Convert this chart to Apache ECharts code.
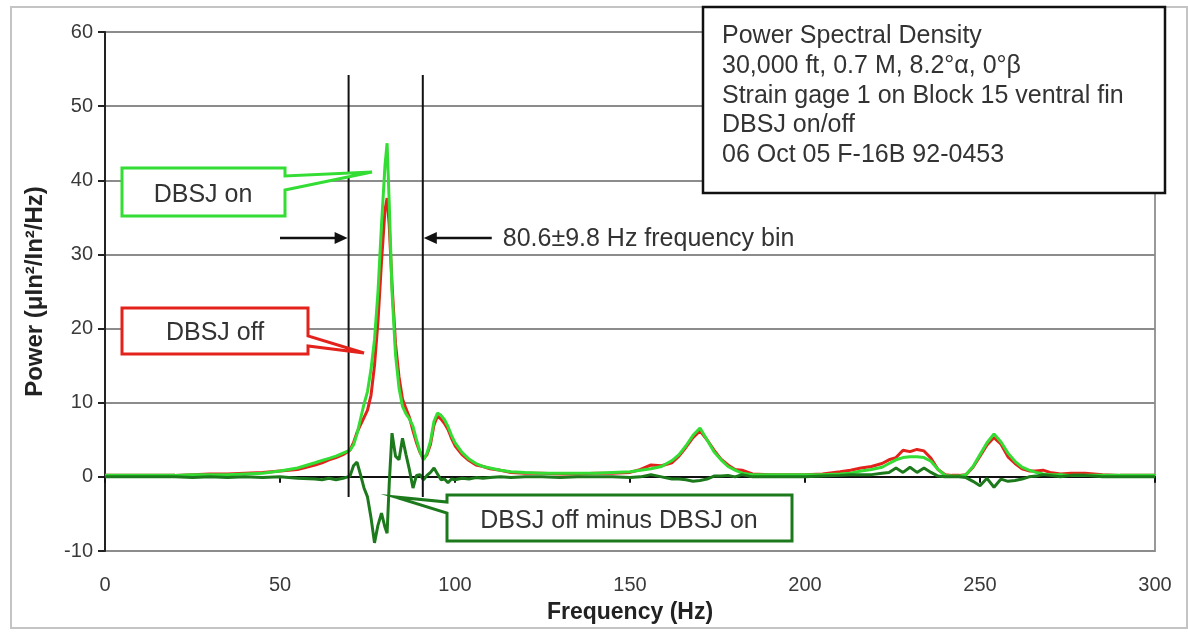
<!DOCTYPE html>
<html>
<head>
<meta charset="utf-8">
<script src="https://cdn.jsdelivr.net/npm/echarts@6/dist/echarts.min.js"></script>
<style>
html,body{margin:0;padding:0;background:#fff;}
#chart{width:1188px;height:632px;}
</style>
</head>
<body>
<div id="chart"></div>
<script>
// Frequency samples (Hz)
const freq = [
  0, 5, 10, 15, 20, 25, 30, 35, 40, 45,
  50, 55, 60, 62, 64, 66, 68, 70, 71, 72,
  73, 74, 75, 76, 77, 78, 79, 80, 80.6, 81.2,
  82, 83, 84, 85, 86, 87, 88, 89, 90, 91,
  92, 93, 94, 95, 96, 97, 98, 99, 100, 102,
  104, 106, 108, 110, 113, 116, 120, 125, 130, 135,
  140, 145, 150, 153, 156, 159, 162, 164, 166, 168,
  170, 172, 174, 176, 178, 180, 182, 185, 190, 195,
  200, 205, 210, 213, 216, 219, 222, 224, 226, 228,
  230, 232, 234, 236, 238, 240, 242, 244, 246, 248,
  250, 252, 254, 256, 258, 260, 262, 264, 266, 268,
  270, 273, 276, 280, 285, 290, 295, 300
];
// DBSJ on (bright green)
const dbsjOn = [
  0.2, 0.2, 0.2, 0.2, 0.2, 0.3, 0.3, 0.3, 0.4, 0.5,
  0.8, 1.2, 1.9, 2.2, 2.5, 2.8, 3.2, 3.6, 4.3, 5.8,
  7.8, 9.8, 11.5, 14.5, 18.5, 25, 34, 42, 45, 37,
  25, 16.5, 12, 9.5, 8.5, 7.8, 6.8, 5, 3.4, 2.3,
  3.2, 4.8, 7.5, 8.6, 8.3, 7.7, 6.8, 5.6, 4.6, 3.3,
  2.4, 1.8, 1.4, 1.2, 0.9, 0.7, 0.6, 0.5, 0.5, 0.5,
  0.5, 0.6, 0.7, 0.9, 1.1, 1.4, 2.2, 3.0, 4.2, 5.6,
  6.6, 5.0, 3.4, 2.3, 1.4, 0.9, 0.5, 0.3, 0.3, 0.3,
  0.3, 0.3, 0.4, 0.5, 0.8, 1.0, 1.3, 1.8, 2.3, 2.6,
  2.7, 2.7, 2.6, 2.1, 1.0, 0.2, 0.1, 0.1, 0.3, 1.4,
  3.0, 4.6, 5.8, 4.7, 3.2, 2.1, 1.3, 0.9, 0.6, 0.4,
  0.3, 0.3, 0.2, 0.2, 0.2, 0.2, 0.2, 0.2
];
// DBSJ off (red)
const dbsjOff = [
  0.2, 0.2, 0.2, 0.2, 0.2, 0.3, 0.4, 0.4, 0.5, 0.6,
  0.8, 1.0, 1.6, 1.9, 2.3, 2.6, 3.0, 3.6, 4.6, 6.0,
  7.0, 8.0, 9.0, 11, 15, 21, 29, 36, 37.6, 34,
  26, 18, 13.5, 10.5, 9.2, 8.0, 6.2, 4.6, 3.3, 2.4,
  3.0, 4.4, 7.0, 8.2, 7.8, 7.2, 6.4, 5.2, 4.2, 3.0,
  2.2, 1.6, 1.4, 1.1, 0.9, 0.6, 0.5, 0.5, 0.4, 0.4,
  0.5, 0.5, 0.6, 1.0, 1.6, 1.5, 1.9, 2.8, 4.0, 5.3,
  6.2, 5.0, 3.6, 2.4, 1.6, 1.0, 0.9, 0.4, 0.3, 0.3,
  0.3, 0.4, 0.7, 0.9, 1.2, 1.4, 1.8, 2.3, 2.6, 3.6,
  3.4, 3.7, 3.5, 2.5, 1.0, 0.3, 0.2, 0.2, 0.3, 1.3,
  2.8, 4.3, 5.3, 4.4, 2.7, 1.8, 1.1, 0.8, 0.8, 0.9,
  0.6, 0.4, 0.5, 0.5, 0.3, 0.2, 0.2, 0.2
];
// DBSJ off minus DBSJ on (dark green)
const dbsjDiff = [
  0.0, 0.0, 0.0, 0.0, 0.0, -0.1, 0.0, -0.1, 0.0, -0.1,
  0.0, -0.2, -0.3, -0.4, -0.2, -0.4, -0.2, 0.1, 1.5, 2.0,
  0.3, -1.5, -2.7, -5.5, -8.9, -6.5, -4.9, -6.8, -7.6, -1.0,
  5.9, 2.8, 2.3, 5.2, 3.0, 0.9, -1.5, 0.2, 0.3, -0.4,
  0.2, 0.6, 1.2, 0.4, -0.4, -0.3, -0.8, -0.3, -0.4, -0.2,
  -0.3, -0.1, -0.2, -0.1, 0.0, -0.1, 0.0, 0.0, -0.1, 0.0,
  0.0, 0.0, -0.1, 0.0, 0.3, 0.0, -0.3, -0.3, -0.4, -0.6,
  -0.5, -0.3, 0.1, 0.1, 0.2, 0.0, 0.3, 0.0, 0.0, 0.0,
  0.0, 0.1, 0.2, 0.3, 0.3, 0.3, 0.5, 0.6, 1.2, 0.6,
  1.3, 0.6, 1.2, 0.6, 0.1, 0.0, 0.0, 0.0, -0.1, -0.6,
  -1.2, -0.2, -1.4, -0.3, -0.6, -0.5, -0.3, 0.0, 0.1, 0.3,
  0.2, 0.0, 0.2, 0.2, 0.0, 0.0, 0.0, 0.0
];
// Axis ticks
const xTickLabels = [0, 50, 100, 150, 200, 250, 300];
const yTickLabels = [-10, 0, 10, 20, 30, 40, 50, 60];
// Frequency bin annotation
const binLines = [69.6, 90.8];
const binLineRange = [-2.7, 54.2];
const binArrowLevel = 32.2;
const binArrowLeftStart = 50;
const binArrowRightStart = 110.5;
const binLabel = '80.6±9.8 Hz frequency bin';
// Info box text
const infoLines = [
  'Power Spectral Density',
  '30,000 ft, 0.7 M, 8.2°α, 0°β',
  'Strain gage 1 on Block 15 ventral fin',
  'DBSJ on/off',
  '06 Oct 05 F-16B 92-0453'
];
const seriesNames = ['DBSJ off', 'DBSJ on', 'DBSJ off minus DBSJ on'];

const toPairs = (vals) => freq.map((f, i) => [f, vals[i]]);

const GREEN = '#33dd33', RED = '#e3221c', DARK = '#1c7a1c';
const FONT = "'Liberation Sans', Arial, sans-serif";

const chart = echarts.init(document.getElementById('chart'), null, {renderer: 'canvas'});

chart.setOption({
  animation: false,
  backgroundColor: '#fff',
  grid: {left: 105, right: 33, top: 32, bottom: 81, show: true, borderColor: '#999', borderWidth: 2, backgroundColor: 'transparent'},
  xAxis: [
    {
      type: 'value', min: xTickLabels[0], max: xTickLabels[xTickLabels.length - 1], interval: 50,
      position: 'bottom',
      axisLine: {show: true, onZero: true, lineStyle: {color: '#111', width: 2}},
      axisTick: {show: true, length: 6, lineStyle: {color: '#111', width: 2}},
      axisLabel: {show: false},
      splitLine: {show: false}
    },
    {
      type: 'value', min: xTickLabels[0], max: xTickLabels[xTickLabels.length - 1], interval: 50,
      position: 'bottom',
      axisLine: {show: false, onZero: false},
      axisTick: {show: false},
      axisLabel: {show: true, fontSize: 20, color: '#3a3a3a', fontFamily: FONT, margin: 24},
      splitLine: {show: false},
      name: 'Frequency (Hz)', nameLocation: 'middle', nameGap: 50,
      nameTextStyle: {fontSize: 23, fontWeight: 'bold', color: '#222', fontFamily: FONT}
    }
  ],
  yAxis: {
    type: 'value', min: yTickLabels[0], max: yTickLabels[yTickLabels.length - 1], interval: 10,
    axisLine: {show: true, onZero: false, lineStyle: {color: '#222', width: 2}},
    axisTick: {show: true, length: 7, lineStyle: {color: '#222', width: 2}},
    axisLabel: {fontSize: 20, color: '#3a3a3a', fontFamily: FONT, margin: 12},
    splitLine: {show: true, lineStyle: {color: '#8c8c8c', width: 2}},
    name: 'Power (μIn²/In²/Hz)', nameLocation: 'middle', nameGap: 58, nameRotate: 90,
    nameTextStyle: {fontSize: 24, fontWeight: 'bold', color: '#222', fontFamily: FONT}
  },
  series: [
    {name: seriesNames[0], type: 'line', data: toPairs(dbsjOff), showSymbol: false, xAxisIndex: 0,
     lineStyle: {color: RED, width: 3}, itemStyle: {color: RED}, z: 3},
    {name: seriesNames[1], type: 'line', data: toPairs(dbsjOn), showSymbol: false, xAxisIndex: 0,
     lineStyle: {color: GREEN, width: 3}, itemStyle: {color: GREEN}, z: 4},
    {name: seriesNames[2], type: 'line', data: toPairs(dbsjDiff), showSymbol: false, xAxisIndex: 0,
     lineStyle: {color: DARK, width: 3}, itemStyle: {color: DARK}, z: 5}
  ]
});

const P = (f, v) => chart.convertToPixel({xAxisIndex: 0, yAxisIndex: 0}, [f, v]);

function callout(pts, color, text, tx, ty) {
  return [
    {type: 'polygon', shape: {points: pts}, style: {fill: '#fff', stroke: color, lineWidth: 3}, z: 100},
    {type: 'text', style: {text: text, x: tx, y: ty, fill: '#333', font: '25px ' + FONT, align: 'center', verticalAlign: 'middle'}, z: 101}
  ];
}

const g = [];
// outer frame
g.push({type: 'rect', shape: {x: 11, y: 7, width: 1176, height: 621}, style: {fill: 'none', stroke: '#c4c4c4', lineWidth: 2}, z: 90});
// info box
g.push({type: 'rect', shape: {x: 703, y: 7, width: 462, height: 186}, style: {fill: '#fff', stroke: '#111', lineWidth: 2.5}, z: 100});
const infoY = [36, 66, 96, 125, 155];
infoLines.forEach((t, i) => g.push({type: 'text', style: {text: t, x: 722, y: infoY[i], fill: '#333', font: '25px ' + FONT, align: 'left', verticalAlign: 'middle'}, z: 101}));

// bin lines
binLines.forEach(f => {
  const a = P(f, binLineRange[1]), b = P(f, binLineRange[0]);
  g.push({type: 'line', shape: {x1: a[0], y1: a[1], x2: b[0], y2: b[1]}, style: {stroke: '#111', lineWidth: 2}, z: 50});
});
// arrows
const la = P(binArrowLeftStart, binArrowLevel), lt = P(binLines[0], binArrowLevel);
const ra = P(binArrowRightStart, binArrowLevel), rt = P(binLines[1], binArrowLevel);
g.push({type: 'line', shape: {x1: la[0], y1: la[1], x2: lt[0] - 10, y2: lt[1]}, style: {stroke: '#111', lineWidth: 2.5}, z: 50});
g.push({type: 'polygon', shape: {points: [[lt[0] - 1, lt[1]], [lt[0] - 14, lt[1] - 6], [lt[0] - 14, lt[1] + 6]]}, style: {fill: '#111'}, z: 50});
g.push({type: 'line', shape: {x1: ra[0], y1: ra[1], x2: rt[0] + 10, y2: rt[1]}, style: {stroke: '#111', lineWidth: 2.5}, z: 50});
g.push({type: 'polygon', shape: {points: [[rt[0] + 1, rt[1]], [rt[0] + 14, rt[1] - 6], [rt[0] + 14, rt[1] + 6]]}, style: {fill: '#111'}, z: 50});
g.push({type: 'text', style: {text: binLabel, x: ra[0] + 11, y: ra[1] + 1, fill: '#333', font: '25px ' + FONT, align: 'left', verticalAlign: 'middle'}, z: 51});

// callouts
g.push(...callout([[122, 168], [285, 168], [285, 176], [372, 172], [285, 190], [285, 216], [122, 216]], GREEN, 'DBSJ on', 203, 195));
g.push(...callout([[122, 308], [308, 308], [308, 336], [364, 353], [308, 346], [308, 354], [122, 354]], RED, 'DBSJ off', 215, 333));
g.push(...callout([[447, 495], [792, 495], [792, 541], [447, 541], [447, 513], [395, 497], [447, 502]], DARK, 'DBSJ off minus DBSJ on', 619, 521));

chart.setOption({graphic: g});
</script>
</body>
</html>
